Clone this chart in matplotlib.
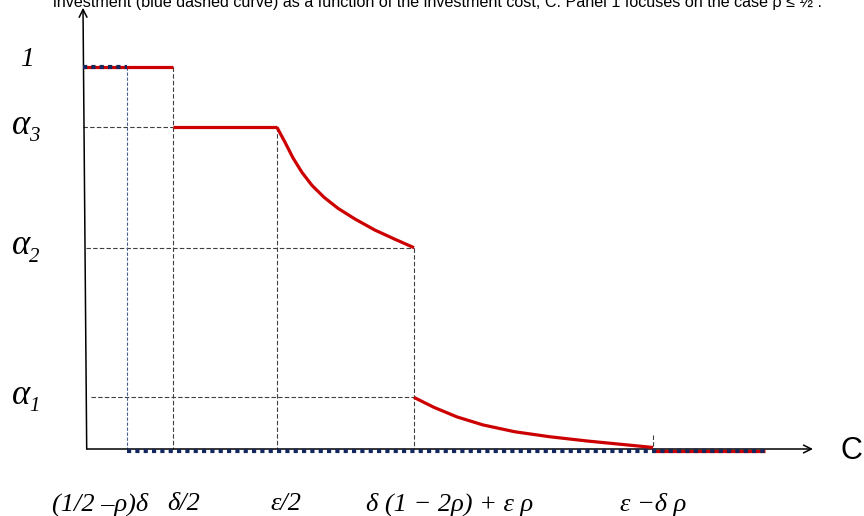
import matplotlib
matplotlib.use("Agg")
import matplotlib.pyplot as plt

# breakpoints on the C axis (arbitrary units)
x_rho = 0.42        # (1/2 - rho) delta
x_half_delta = 0.88 # delta/2
x_half_eps = 1.92   # eps/2
x_mid = 3.29        # delta(1-2rho) + eps rho
x_end = 5.68        # eps - delta rho
x_tail = 6.80

# levels on the vertical axis
y_one = 1.0
alpha3 = 0.842
alpha2 = 0.527
alpha1 = 0.135

# decreasing piece between alpha3 and alpha2
curve1_x = [1.92, 2.00, 2.08, 2.17, 2.27, 2.39, 2.53, 2.70, 2.90, 3.10, 3.29]
curve1_y = [0.842, 0.803, 0.762, 0.724, 0.690, 0.659, 0.630, 0.602, 0.573, 0.549, 0.527]

# decreasing piece from alpha1 down to zero
curve2_x = [3.29, 3.49, 3.72, 3.98, 4.30, 4.65, 5.02, 5.35, 5.68]
curve2_y = [0.135, 0.109, 0.084, 0.063, 0.045, 0.032, 0.021, 0.0125, 0.004]

tick_labels = ["(1/2 \u2013\u03c1)\u03b4", "\u03b4/2", "\u03b5/2",
               "\u03b4 (1 \u2212 2\u03c1) + \u03b5 \u03c1", "\u03b5 \u2212\u03b4 \u03c1"]
tick_label_x = [0.15, 0.99, 2.01, 3.65, 5.68]

level_labels = [("1", None, y_one), ("\u03b1", "3", alpha3),
                ("\u03b1", "2", alpha2), ("\u03b1", "1", alpha1)]

title = ("investment (blue dashed curve) as a function of the investment cost, "
         "C. Panel 1 focuses on the case \u03c1 \u2264 \u00bd .")

red = "#cc0000"
navy = "#14285e"
grey = "#404040"

fig = plt.figure(figsize=(8.64, 5.16), dpi=100)
ax = fig.add_axes([0, 0, 1, 1])
ax.set_xlim(-0.85, 7.79)
ax.set_ylim(-0.1754, 1.1754)
ax.axis("off")

# guide lines
dash = dict(color=grey, lw=0.8, ls=(0, (4, 2)), zorder=1)
ax.plot([-0.02, x_half_delta], [alpha3, alpha3], **dash)
ax.plot([0.007, x_mid], [alpha2, alpha2], **dash)
ax.plot([0.057, x_mid], [alpha1, alpha1], **dash)
ax.plot([x_half_delta, x_half_delta], [y_one, 0], **dash)
ax.plot([x_half_eps, x_half_eps], [alpha3, 0], **dash)
ax.plot([x_mid, x_mid], [alpha2, 0], **dash)
ax.plot([x_end, x_end], [0.037, -0.008], **dash)
ax.plot([x_rho, x_rho], [y_one, 0], color="#4a5f8f", lw=0.8,
        ls=(0, (3, 1.5)), zorder=1)

# axes with arrows
ax.annotate("", xy=(-0.02, 1.155), xytext=(0.017, 0),
            arrowprops=dict(arrowstyle="->", lw=1.1, color="black",
                            shrinkA=0, shrinkB=0, mutation_scale=14), zorder=2)
ax.annotate("", xy=(7.28, 0), xytext=(0.017, 0),
            arrowprops=dict(arrowstyle="->", lw=1.1, color="black",
                            shrinkA=0, shrinkB=0, mutation_scale=14), zorder=2)

# red curve
rk = dict(color=red, lw=2.3, solid_capstyle="butt", solid_joinstyle="round", zorder=3)
ax.plot([-0.02, x_half_delta], [y_one, y_one], **rk)
ax.plot([x_half_delta, x_half_eps], [alpha3, alpha3], **rk)
ax.plot(curve1_x, curve1_y, **rk)
ax.plot(curve2_x, curve2_y, **rk)
ax.plot([x_end, x_tail], [-0.004, -0.004], **rk)

# blue dotted curve
bk = dict(color=navy, lw=3.0, ls=(0, (1.0, 1.0)), dash_capstyle="butt", zorder=4)
ax.plot([-0.02, x_rho], [y_one, y_one], **bk)
ax.plot([x_rho, x_tail], [-0.005, -0.005], **bk)

# labels
serif_it = dict(family="Liberation Serif", style="italic")
for main, sub, y in level_labels:
    if sub is None:
        ax.text(-0.58, y + 0.02, main, fontsize=20, ha="center", va="center", **serif_it)
    else:
        ax.text(-0.64, y + 0.005, main, fontsize=25, ha="center", va="center", **serif_it)
        ax.text(-0.51, y - 0.025, sub, fontsize=15, ha="center", va="center", **serif_it)

for lab, x in zip(tick_labels, tick_label_x):
    ax.text(x, -0.145, lab, fontsize=19, ha="center", va="center", **serif_it)

ax.text(7.66, -0.005, "C", fontsize=22, ha="center", va="center",
        family="Liberation Sans")

fig.text(53 / 864, 1 - 7.5 / 516, title, fontsize=11.6, ha="left",
         va="baseline", family="Liberation Sans")

fig.savefig("out.png", dpi=100)
